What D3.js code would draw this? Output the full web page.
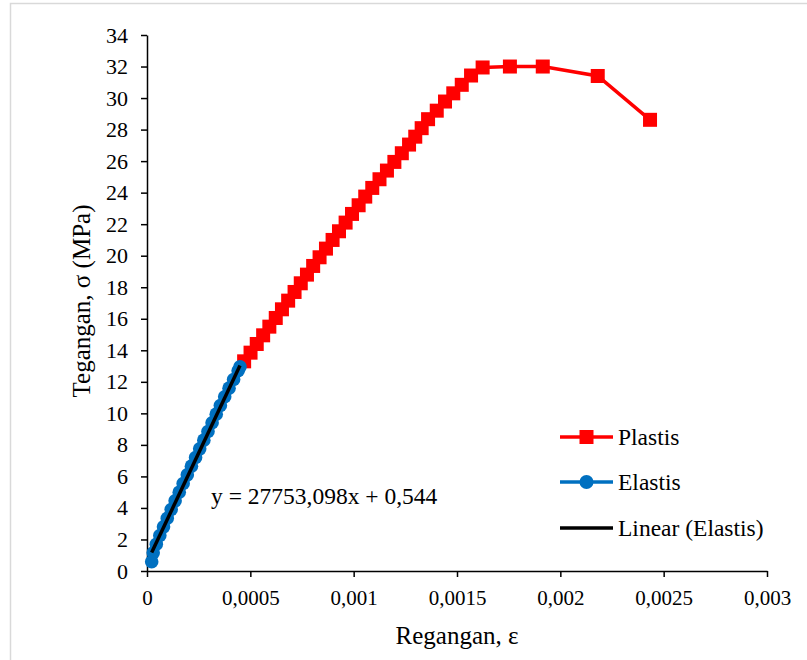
<!DOCTYPE html>
<html><head><meta charset="utf-8">
<script src="https://cdn.jsdelivr.net/npm/d3@7"></script>
<style>html,body{margin:0;padding:0;background:#fff;} svg{display:block;}</style>
</head><body>
<svg id="chart" width="807" height="660"></svg>
<script>
// ---- data ----
const elastisX = [0.0000226,0.000030,0.000045,0.000062,0.000080,0.000098,0.000117,0.000136,0.000156,0.000175,0.000195,0.000215,0.000235,0.000255,0.000275,0.000295,0.000315,0.000335,0.000355,0.000376,0.000397,0.000419,0.000441,0.000450];
const elastisY = [0.59,1.15,1.7,2.25,2.8,3.35,3.9,4.45,5.0,5.55,6.1,6.65,7.2,7.75,8.3,8.85,9.4,9.95,10.5,11.05,11.6,12.15,12.7,12.95];
const plastisX = [0.000470,0.000501,0.000531,0.000562,0.000592,0.000623,0.000653,0.000683,0.000714,0.000744,0.000774,0.000804,0.000835,0.000866,0.000898,0.000929,0.000961,0.000992,0.001024,0.001056,0.001090,0.001125,0.001161,0.001197,0.001233,0.001268,0.001298,0.001329,0.001360,0.001402,0.001442,0.001482,0.001523,0.001568,0.001624,0.001756,0.001915,0.002181,0.002434];
const plastisY = [13.3,13.85,14.4,14.95,15.5,16.05,16.6,17.15,17.7,18.25,18.8,19.35,19.9,20.45,21.0,21.55,22.1,22.65,23.2,23.75,24.3,24.85,25.4,25.95,26.5,27.05,27.55,28.09,28.66,29.2,29.78,30.3,30.84,31.43,31.94,32.0,32.0,31.4,28.62];
const trendSlope = 27753.098, trendIntercept = 0.544;
const xTicks = [0,0.0005,0.001,0.0015,0.002,0.0025,0.003];
const xTickLabels = ["0","0,0005","0,001","0,0015","0,002","0,0025","0,003"];
const yTicks = [0,2,4,6,8,10,12,14,16,18,20,22,24,26,28,30,32,34];
const legendNames = ["Plastis","Elastis","Linear (Elastis)"];
const equationText = "y = 27753,098x + 0,544";
const xTitle = "Regangan, ε";
const yTitle = "Tegangan, σ (MPa)";

// ---- drawing ----
const svg = d3.select("#chart");
const FONT = "'Liberation Serif','Times New Roman',serif";
const RED = "#FF0000", BLUE = "#0070C0";
const L = 147, R = 767, T = 35, B = 571;
const x = d3.scaleLinear().domain([0,0.003]).range([L,R]);
const y = d3.scaleLinear().domain([0,34]).range([B,T]);

// outer frame
svg.append("rect").attr("x",10.5).attr("y",3.5).attr("width",820).attr("height",680)
  .attr("fill","none").attr("stroke","#d9d9d9").attr("stroke-width",1.5);

// axes
const xAxis = d3.axisBottom(x).tickValues(xTicks).tickFormat((d,i)=>xTickLabels[i]).tickSize(6).tickSizeOuter(0);
const gx = svg.append("g").attr("transform",`translate(0,${B})`).call(xAxis);
gx.select(".domain").attr("stroke","#000").attr("stroke-width",1.5);
gx.selectAll(".tick line").attr("stroke","#000").attr("stroke-width",1.5);
gx.selectAll(".tick text").attr("font-family",FONT).attr("font-size",21).attr("fill","#000").attr("y",14).attr("dy","0.95em");

const yAxis = d3.axisLeft(y).tickValues(yTicks).tickSize(6).tickSizeOuter(0);
const gy = svg.append("g").attr("transform",`translate(${L},0)`).call(yAxis);
gy.select(".domain").attr("stroke","#000").attr("stroke-width",1.5);
gy.selectAll(".tick line").attr("stroke","#000").attr("stroke-width",1.5);
gy.selectAll(".tick text").attr("font-family",FONT).attr("font-size",22).attr("fill","#000").attr("x",-19);

// series
const line = d3.line().x(d=>x(d[0])).y(d=>y(d[1]));
const plastis = plastisX.map((v,i)=>[v,plastisY[i]]);
const elastis = elastisX.map((v,i)=>[v,elastisY[i]]);

svg.append("path").datum(plastis).attr("d",line).attr("fill","none").attr("stroke",RED).attr("stroke-width",3.5);
const SQ = 14;
svg.append("g").selectAll("rect").data(plastis).join("rect")
  .attr("x",d=>x(d[0])-SQ/2).attr("y",d=>y(d[1])-SQ/2).attr("width",SQ).attr("height",SQ).attr("fill",RED);

svg.append("path").datum(elastis).attr("d",line).attr("fill","none").attr("stroke",BLUE).attr("stroke-width",3.5);
svg.append("g").selectAll("circle").data(elastis).join("circle")
  .attr("cx",d=>x(d[0])).attr("cy",d=>y(d[1])).attr("r",6.8).attr("fill",BLUE);

// trend line
const x0 = d3.min(elastisX), x1 = d3.max(elastisX);
svg.append("line").attr("x1",x(x0)).attr("y1",y(trendSlope*x0+trendIntercept))
  .attr("x2",x(x1)).attr("y2",y(trendSlope*x1+trendIntercept))
  .attr("stroke","#000").attr("stroke-width",3.5);

// equation
svg.append("text").attr("x",211).attr("y",504).attr("font-family",FONT).attr("font-size",23.5).attr("fill","#000").text(equationText);

// titles
svg.append("text").attr("x",457).attr("y",644).attr("text-anchor","middle").attr("font-family",FONT).attr("font-size",25).attr("fill","#000").text(xTitle);
svg.append("text").attr("transform","translate(90,301) rotate(-90)").attr("text-anchor","middle").attr("font-family",FONT).attr("font-size",25).attr("fill","#000").text(yTitle);

// legend
const lg = svg.append("g");
const ly = [437,482,528];
const lcol = [RED,BLUE,"#000"];
legendNames.forEach((name,i)=>{
  lg.append("line").attr("x1",560).attr("x2",613).attr("y1",ly[i]).attr("y2",ly[i]).attr("stroke",lcol[i]).attr("stroke-width",3.5);
  if(i===0) lg.append("rect").attr("x",586.5-7).attr("y",ly[i]-7).attr("width",14).attr("height",14).attr("fill",RED);
  if(i===1) lg.append("circle").attr("cx",586.5).attr("cy",ly[i]).attr("r",7).attr("fill",BLUE);
  lg.append("text").attr("x",618).attr("y",ly[i]).attr("dy","0.35em").attr("font-family",FONT).attr("font-size",23.5).attr("fill","#000").text(name);
});
</script>
</body></html>
